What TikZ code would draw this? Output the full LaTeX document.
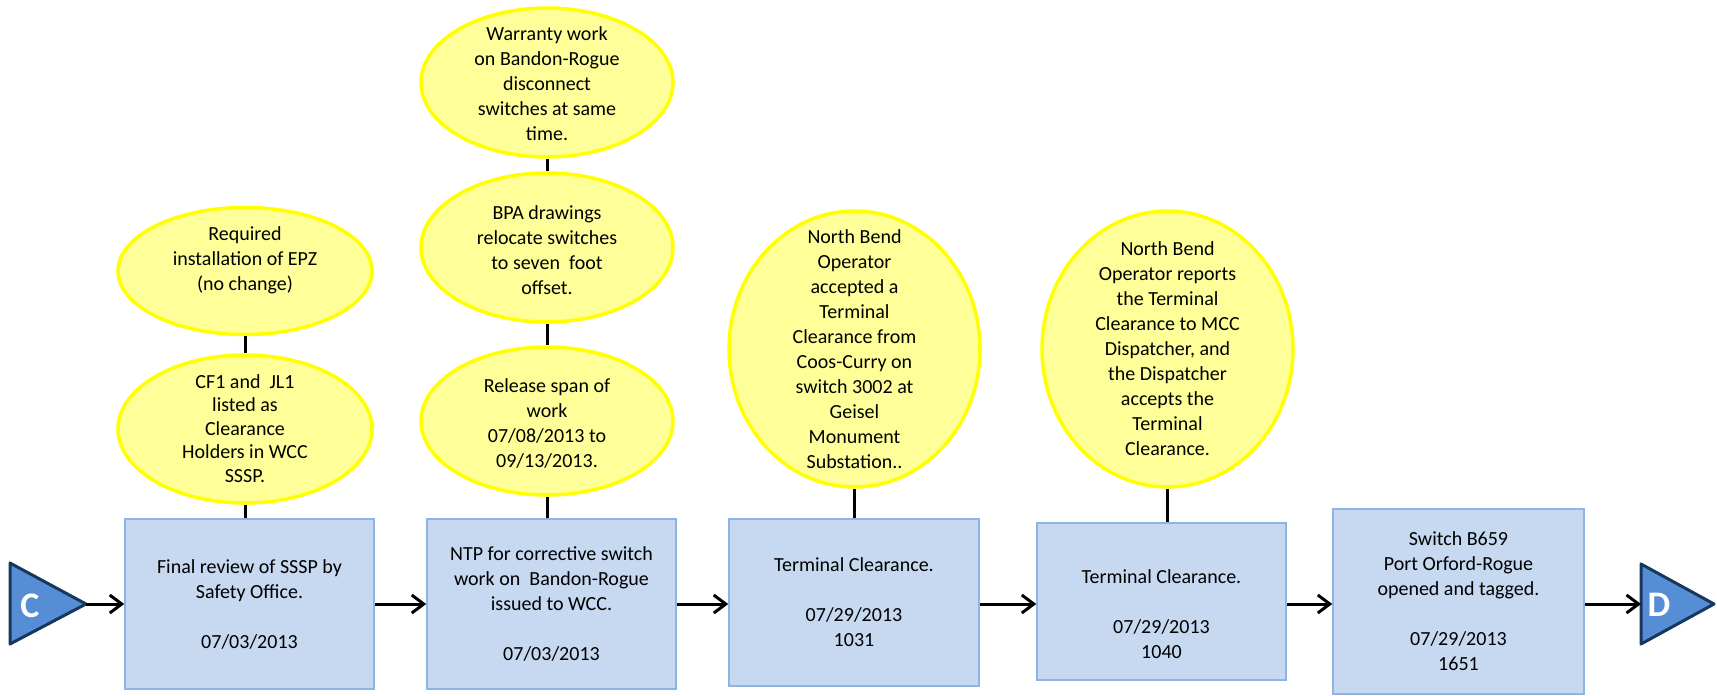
\documentclass[tikz,border=0pt]{standalone}
\usepackage{fontspec}
\setmainfont{Carlito}
\usetikzlibrary{arrows.meta,shapes.geometric,calc}
\definecolor{boxfill}{HTML}{C6D9F1}
\definecolor{boxline}{HTML}{8EB4E3}
\definecolor{bubfill}{HTML}{FFFF99}
\definecolor{bubline}{HTML}{FFFF00}
\definecolor{trifill}{HTML}{558ED5}
\definecolor{triline}{HTML}{17375E}
\begin{document}
\begin{tikzpicture}[x=1pt,y=-1pt,
  box/.style={draw=boxline, line width=1.5pt, fill=boxfill, rectangle, inner sep=0pt, align=center, font=\fontsize{20}{25}\selectfont},
  bub/.style={draw=bubline, line width=3.5pt, fill=bubfill, ellipse, inner sep=0pt},
  txt/.style={align=center, font=\fontsize{20}{25}\selectfont, inner sep=0pt},
  link/.style={line width=3pt},
  flow/.style={line width=3pt, -{Straight Barb[length=12pt,width=18pt]}},
  tri/.style={fill=trifill, draw=triline, line width=3pt, line join=round},
  letter/.style={text=white, font=\fontsize{36}{36}\selectfont\bfseries, inner sep=0pt}]
\useasboundingbox (0,0) rectangle (1717,696);

% ellipses
\node[bub, minimum width=254pt, minimum height=127pt] (e1) at (245,271) {};
\node[txt] (t1) at (245,260) {Required\\installation of EPZ\\(no change)};
\node[bub, minimum width=254pt, minimum height=148pt] (e2) at (245,429) {};
\node[txt, font=\fontsize{20}{23.5}\selectfont] (t2) at (245,428.5) {CF1 and\ \ JL1\\listed as\\Clearance\\Holders in WCC\\SSSP.};
\node[bub, minimum width=252pt, minimum height=149pt] (e3) at (547,82.5) {};
\node[txt] (t3) at (547,83.5) {Warranty work\\on Bandon-Rogue\\disconnect\\switches at same\\time.};
\node[bub, minimum width=252pt, minimum height=149pt] (e4) at (547,247.5) {};
\node[txt] (t4) at (547,250) {BPA drawings\\relocate switches\\to seven\ \ foot\\offset.};
\node[bub, minimum width=252pt, minimum height=148pt] (e5) at (547,421) {};
\node[txt] (t5) at (547,423) {Release span of\\work\\07/08/2013 to\\09/13/2013.};
\node[bub, minimum width=251pt, minimum height=276pt] (e6) at (854.5,349) {};
\node[txt] (t6) at (854.5,349.5) {North Bend\\Operator\\accepted a\\Terminal\\Clearance from\\Coos-Curry on\\switch 3002 at\\Geisel\\Monument\\Substation..};
\node[bub, minimum width=251pt, minimum height=276pt] (e7) at (1167.5,349) {};
\node[txt] (t7) at (1167.5,349) {North Bend\\Operator reports\\the Terminal\\Clearance to MCC\\Dispatcher, and\\the Dispatcher\\accepts the\\Terminal\\Clearance.};

% boxes
\node[box, minimum width=249pt, minimum height=170pt] (b1) at (249.5,604) {Final review of SSSP by\\Safety Office.\\[25pt]07/03/2013};
\node[box, minimum width=249pt, minimum height=170pt] (b2) at (551.5,604) {NTP for corrective switch\\work on\ \ Bandon-Rogue\\issued to WCC.\\[25pt]07/03/2013};
\node[box, minimum width=250pt, minimum height=167pt] (b3) at (854,602.5) {Terminal Clearance.\\[25pt]07/29/2013\\1031};
\node[box, minimum width=249pt, minimum height=157pt] (b4) at (1161.5,601.5) {};
\node[txt] (t8) at (1161.5,614.5) {Terminal Clearance.\\[25pt]07/29/2013\\1040};
\node[box, minimum width=251pt, minimum height=185pt] (b5) at (1458.5,601.5) {Switch B659\\Port Orford-Rogue\\opened and tagged.\\[25pt]07/29/2013\\1651};

% off-page connectors
\coordinate (Ctip) at (86,604);
\draw[tri] (10,563) -- (10,644) -- (Ctip) -- cycle;
\node[letter] (Cl) at (30,606) {C};
\coordinate (Dtip) at (1714,604);
\coordinate (Dbase) at (1641,604);
\draw[tri] (1641,564) -- (1641,644) -- (Dtip) -- cycle;
\node[letter] (Dl) at (1659,605) {D};

% vertical links
\draw[link] (e1.south) -- (e2.north);
\draw[link] (e2.south) -- (e2.south |- b1.north);
\draw[link] (e3.south) -- (e4.north);
\draw[link] (e4.south) -- (e5.north);
\draw[link] (e5.south) -- (e5.south |- b2.north);
\draw[link] (e6.south) -- (e6.south |- b3.north);
\draw[link] (e7.south) -- (e7.south |- b4.north);

% flow arrows
\draw[flow] (Ctip) -- (b1.west |- Ctip);
\draw[flow] (b1.east |- Ctip) -- (b2.west |- Ctip);
\draw[flow] (b2.east |- Ctip) -- (b3.west |- Ctip);
\draw[flow] (b3.east |- Ctip) -- (b4.west |- Ctip);
\draw[flow] (b4.east |- Ctip) -- (b5.west |- Ctip);
\draw[flow] (b5.east |- Ctip) -- (Dbase);
\end{tikzpicture}
\end{document}
